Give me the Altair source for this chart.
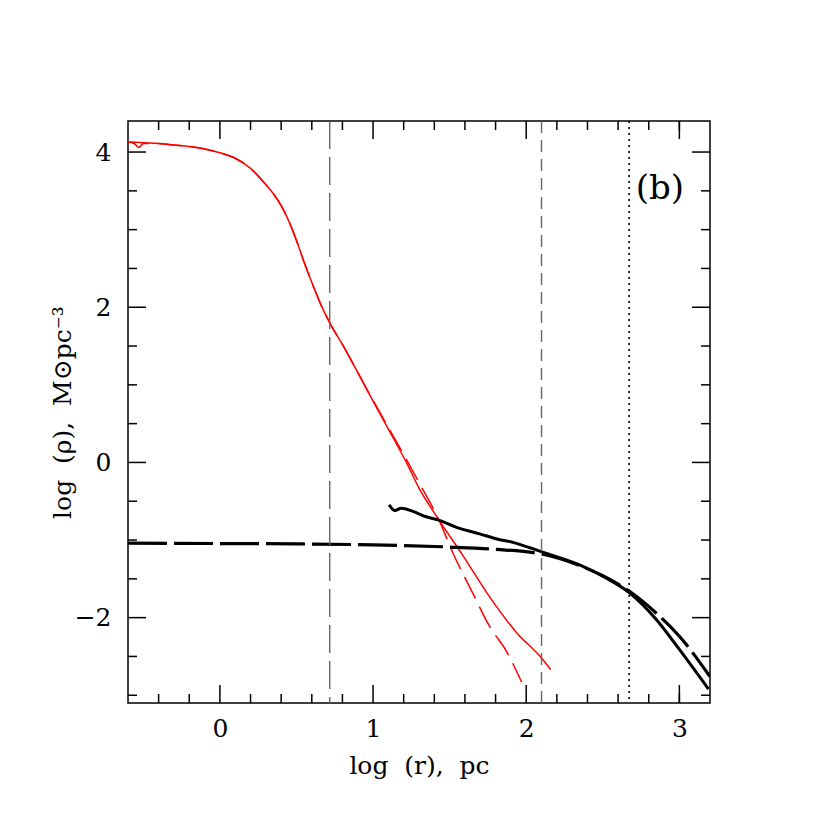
import altair as alt
import pandas as pd

# ---- data ----
red_solid_x = [-0.6, -0.5, -0.4, -0.3, -0.2, -0.1, 0.0, 0.1, 0.2, 0.3, 0.35, 0.4, 0.45, 0.5, 0.55, 0.61,
               0.66, 0.72, 0.8, 0.9, 1.0, 1.1, 1.22, 1.3, 1.43, 1.59, 1.76, 1.94, 2.1, 2.16]
red_solid_y = [4.13, 4.12, 4.11, 4.09, 4.07, 4.04, 3.99, 3.92, 3.79, 3.58, 3.46, 3.31, 3.11, 2.86, 2.58, 2.27,
               2.03, 1.79, 1.52, 1.16, 0.79, 0.43, -0.01, -0.33, -0.74, -1.21, -1.73, -2.20, -2.52, -2.67]

red_dash_x = [-0.6, -0.56, -0.53, -0.5, -0.4, -0.3, -0.2, -0.1, 0.0, 0.1, 0.2, 0.3, 0.35, 0.4, 0.45, 0.5,
              0.55, 0.61, 0.66, 0.72, 0.8, 0.9, 1.0, 1.1, 1.22, 1.3, 1.43, 1.52, 1.65, 1.76, 1.87, 1.97]
red_dash_y = [4.13, 4.11, 4.06, 4.11, 4.11, 4.09, 4.07, 4.04, 3.99, 3.92, 3.79, 3.58, 3.46, 3.31, 3.11, 2.86,
              2.58, 2.27, 2.03, 1.79, 1.52, 1.16, 0.80, 0.45, 0.03, -0.26, -0.74, -1.16, -1.68, -2.11, -2.43, -2.83]

black_solid_x = [1.105, 1.142, 1.185, 1.26, 1.347, 1.424, 1.566, 1.696, 1.815, 1.913, 2.098,
                 2.348, 2.522, 2.674, 2.848, 3.0, 3.19]
black_solid_y = [-0.545, -0.62, -0.59, -0.63, -0.70, -0.74, -0.85, -0.92, -0.99, -1.03, -1.15,
                 -1.32, -1.49, -1.68, -2.02, -2.41, -2.92]

black_dash_x = [-0.6, 0.0, 0.5, 1.0, 1.5, 1.8, 2.1, 2.35, 2.5, 2.674, 2.848, 3.0, 3.2]
black_dash_y = [-1.04, -1.045, -1.05, -1.062, -1.09, -1.12, -1.18, -1.33, -1.46, -1.66, -1.94, -2.24, -2.76]

vline_long = [0.717]
vline_short = [2.1]
vline_dot = [2.672]

x_major = [0, 1, 2, 3]
x_minor = [-0.4, -0.2, 0.2, 0.4, 0.6, 0.8, 1.2, 1.4, 1.6, 1.8, 2.2, 2.4, 2.6, 2.8, 3.0]
y_major = [-2, 0, 2, 4]
y_minor = [-3, -2.5, -1.5, -1, -0.5, 0.5, 1, 1.5, 2.5, 3, 3.5]

panel_label = "(b)"
x_title = "log\u00a0\u00a0(r),\u00a0\u00a0pc"
y_title = "log\u00a0\u00a0(ρ),\u00a0\u00a0M⊙pc⁻³"

XDOM = [-0.6, 3.2]
YDOM = [-3.1, 4.4]
W = 582
H = 582
FONT = "DejaVu Serif"
LBL = 25
TTL = 25

xs = alt.Scale(domain=XDOM, nice=False, zero=False)
ys = alt.Scale(domain=YDOM, nice=False, zero=False)


def df(x, y):
    return pd.DataFrame({"x": x, "y": y})


base_x = alt.X("x:Q", scale=xs,
               axis=alt.Axis(values=x_major, ticks=False, domain=False, grid=False,
                             labelPadding=13, labelFont=FONT, labelFontSize=LBL,
                             labelColor="black", title=x_title, titleFont=FONT,
                             titleFontSize=TTL, titleFontWeight="normal",
                             titleX=W / 2, titleY=70, titleBaseline="alphabetic",
                             titleColor="black", format="d"))
base_y = alt.Y("y:Q", scale=ys,
               axis=alt.Axis(values=y_major, ticks=False, domain=False, grid=False,
                             labelPadding=17, labelFont=FONT, labelFontSize=LBL,
                             labelColor="black", title=y_title, titleFont=FONT,
                             titleFontSize=TTL, titleFontWeight="normal",
                             titleAngle=270, titleX=-58, titleY=H / 2,
                             titleBaseline="alphabetic",
                             titleColor="black", format="d"))

red_solid = alt.Chart(df(red_solid_x, red_solid_y)).mark_line(
    color="#ff0000", strokeWidth=1.5, interpolate="monotone", clip=True
).encode(x=base_x, y=base_y, order="x:Q")

red_dash = alt.Chart(df(red_dash_x, red_dash_y)).mark_line(
    color="#ff0000", strokeWidth=1.5, strokeDash=[24, 9], interpolate="monotone", clip=True
).encode(x=alt.X("x:Q", scale=xs), y=alt.Y("y:Q", scale=ys), order="x:Q")

black_solid = alt.Chart(df(black_solid_x, black_solid_y)).mark_line(
    color="black", strokeWidth=3, interpolate="monotone", clip=True
).encode(x=alt.X("x:Q", scale=xs), y=alt.Y("y:Q", scale=ys), order="x:Q")

black_dash = alt.Chart(df(black_dash_x, black_dash_y)).mark_line(
    color="black", strokeWidth=3.2, strokeDash=[39, 7], interpolate="monotone", clip=True
).encode(x=alt.X("x:Q", scale=xs), y=alt.Y("y:Q", scale=ys), order="x:Q")


def vline(vals, dash, color, width):
    return alt.Chart(pd.DataFrame({"x": vals})).mark_rule(
        color=color, strokeWidth=width, strokeDash=dash
    ).encode(x=alt.X("x:Q", scale=xs), y=alt.value(0), y2=alt.value(H))


v1 = vline(vline_long, [28, 8], "#666666", 1.4)
v2 = vline(vline_short, [12, 7], "#666666", 1.4)
v3 = vline(vline_dot, [2, 4], "black", 1.6)


def xticks(vals, length):
    d = pd.DataFrame({"x": vals})
    bottom = alt.Chart(d).mark_rule(color="black", strokeWidth=1.5).encode(
        x=alt.X("x:Q", scale=xs), y=alt.value(H), y2=alt.value(H - length))
    top = alt.Chart(d).mark_rule(color="black", strokeWidth=1.5).encode(
        x=alt.X("x:Q", scale=xs), y=alt.value(0), y2=alt.value(length))
    return bottom + top


def yticks(vals, length):
    d = pd.DataFrame({"y": vals})
    left = alt.Chart(d).mark_rule(color="black", strokeWidth=1.5).encode(
        y=alt.Y("y:Q", scale=ys), x=alt.value(0), x2=alt.value(length))
    right = alt.Chart(d).mark_rule(color="black", strokeWidth=1.5).encode(
        y=alt.Y("y:Q", scale=ys), x=alt.value(W), x2=alt.value(W - length))
    return left + right


label = alt.Chart(pd.DataFrame({"x": [2.715], "y": [3.53], "t": [panel_label]})).mark_text(
    font=FONT, fontSize=34, align="left", baseline="middle", color="black"
).encode(x=alt.X("x:Q", scale=xs), y=alt.Y("y:Q", scale=ys), text="t:N")

chart = alt.layer(
    red_solid, red_dash, black_dash, black_solid, v1, v2, v3,
    xticks(x_major, 18), xticks(x_minor, 9), yticks(y_major, 18), yticks(y_minor, 9),
    label
).properties(
    width=W, height=H,
    autosize=alt.AutoSizeParams(type="none"),
    padding={"left": 120, "top": 113, "right": 30, "bottom": 100},
).configure_view(stroke="black", strokeWidth=1.5)

chart.save("out.html", embed_options={"renderer": "svg", "actions": False})
